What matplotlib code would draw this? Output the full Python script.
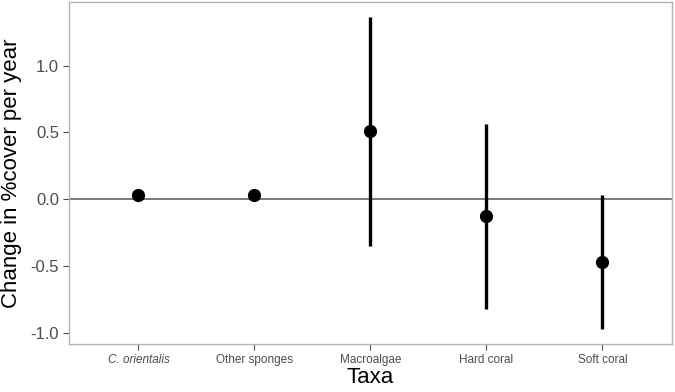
import matplotlib
matplotlib.use("Agg")
import matplotlib.pyplot as plt

taxa = ["C. orientalis", "Other sponges", "Macroalgae", "Hard coral", "Soft coral"]
estimate = [0.03, 0.03, 0.51, -0.13, -0.47]
lower = [0.01, 0.00, -0.35, -0.82, -0.97]
upper = [0.05, 0.06, 1.36, 0.56, 0.03]

plt.rcParams['font.family'] = ['Liberation Sans', 'DejaVu Sans']
fig = plt.figure(figsize=(6.75, 3.92), dpi=100)
ax = fig.add_axes([0.102, 0.1224, 0.8936, 0.8726])

x = list(range(1, len(taxa) + 1))
ax.axhline(0, color="#555555", lw=1.1, zorder=1)
ax.vlines(x, lower, upper, color="black", lw=2.4, zorder=2)
ax.plot(x, estimate, "o", color="black", ms=8.5, zorder=3)

ax.set_xlim(0.4, len(taxa) + 0.6)
ax.set_ylim(-1.086, 1.476)
ax.set_yticks([-1.0, -0.5, 0.0, 0.5, 1.0])
ax.set_yticklabels(["-1.0", "-0.5", "0.0", "0.5", "1.0"])
ax.set_xticks(x)
ax.set_xticklabels(taxa)
ax.get_xticklabels()[0].set_style("italic")

ax.tick_params(axis="y", labelsize=12, colors="#4D4D4D", length=4, width=0.8, pad=3)
ax.tick_params(axis="x", labelsize=8.5, colors="#4D4D4D", length=4, width=0.8, pad=3)
for s in ax.spines.values():
    s.set_color("#B3B3B3")
    s.set_linewidth(1.0)

ax.set_xlabel("Taxa", fontsize=16, color="black", labelpad=1)
ax.set_ylabel("Change in %cover per year", fontsize=16, color="black", labelpad=6)

fig.savefig("out.png", dpi=100)
